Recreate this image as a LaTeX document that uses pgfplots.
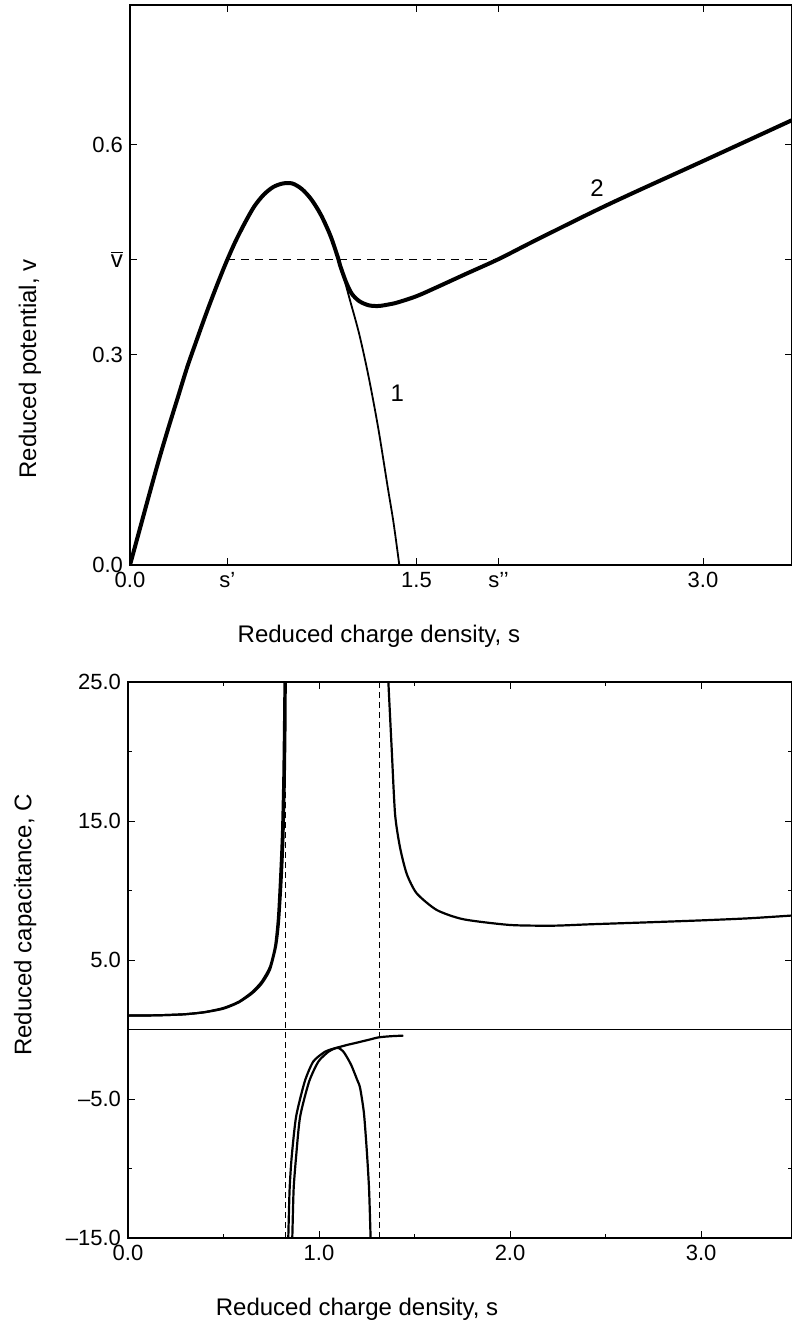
\documentclass[border=0pt]{standalone}
\usepackage{fontspec}
\setmainfont{Liberation Sans}
\usepackage{pgfplots}
\pgfplotsset{compat=1.18}
\begin{document}
\begin{tikzpicture}
\useasboundingbox (0,0) rectangle (396pt,-661pt);
\pgfplotsset{
  mystyle/.style={
    scale only axis, anchor=north west,
    axis line style={line width=0.6pt},
    tick style={line width=0.5pt, black},
    tick align=inside, xtick pos=both, ytick pos=both,
    major tick length=3.5pt, minor tick length=2pt,
    tick label style={font=\fontsize{11}{13}\selectfont},
    label style={font=\fontsize{12}{14}\selectfont},
    /pgf/number format/assume math mode=true,
    clip=true,
  }
}
% ---------------- top panel ----------------
\begin{axis}[mystyle, at={(65pt,-2.5pt)}, width=331pt, height=280pt,
  xmin=0, xmax=3.466, ymin=0, ymax=0.8,
  xtick={0,0.51,1.5,1.93,3}, xticklabels={0.0,s’,1.5,s’’,3.0},
  ytick={0,0.3,0.4366,0.6}, yticklabels={0.0,0.3,{\fontsize{12}{14}\selectfont$\overline{\mbox{v}}$},0.6},
  xlabel={Reduced charge density, s}, ylabel={Reduced potential, v},
  xlabel style={at={(axis description cs:0.376,-0.127)}, anchor=center},
  ylabel style={at={(axis description cs:-0.151,0.35)}, anchor=center},
]
% curve 1 (thin)
\addplot[black, line width=0.9pt, smooth, tension=0.5] coordinates {
(0,0)(0.05,0.050)(0.1,0.100)(0.15,0.149)(0.2,0.195)(0.25,0.239)(0.3,0.283)
(0.35,0.322)(0.4,0.360)(0.45,0.396)(0.5,0.430)(0.55,0.461)(0.6,0.488)
(0.65,0.512)(0.7,0.529)(0.75,0.540)(0.8,0.545)(0.85,0.545)(0.9,0.537)
(0.95,0.522)(1.0,0.500)(1.05,0.470)(1.09,0.438)(1.12,0.410)(1.15,0.380)
(1.2,0.330)(1.25,0.268)(1.3,0.195)(1.35,0.110)(1.38,0.060)(1.41,0.0)};
% curve 2 (thick)
\addplot[black, line width=2pt, line join=round, smooth, tension=0.5] coordinates {
(0,0)(0.05,0.050)(0.1,0.100)(0.15,0.149)(0.2,0.195)(0.25,0.239)(0.3,0.283)
(0.35,0.322)(0.4,0.360)(0.45,0.396)(0.5,0.430)(0.55,0.461)(0.6,0.488)
(0.65,0.512)(0.7,0.529)(0.75,0.540)(0.8,0.545)(0.85,0.545)(0.9,0.537)
(0.95,0.522)(1.0,0.500)(1.05,0.470)(1.09,0.438)(1.10,0.428)(1.13,0.405)
(1.16,0.388)(1.20,0.377)(1.25,0.371)(1.30,0.370)(1.35,0.372)(1.40,0.375)
(1.50,0.384)(1.60,0.396)(1.76,0.416)(1.93,0.437)(2.11,0.462)(2.42,0.504)
(2.63,0.531)(3.00,0.577)(3.47,0.636)};
% v-bar dashed line
\addplot[black, line width=0.5pt, dash pattern=on 4pt off 3pt] coordinates {(0.51,0.4366)(1.93,0.4366)};
\node[font=\fontsize{12}{14}\selectfont] at (axis cs:1.40,0.245) {1};
\node[font=\fontsize{12}{14}\selectfont] at (axis cs:2.445,0.538) {2};
\end{axis}
% ---------------- bottom panel ----------------
\begin{axis}[mystyle, at={(64pt,-341pt)}, width=332pt, height=278pt,
  xmin=0, xmax=3.476, ymin=-15, ymax=25,
  xtick={0,1,2,3}, xticklabels={0.0,1.0,2.0,3.0}, minor xtick={0.5,1.5,2.5},
  ytick={-15,-5,5,15,25}, yticklabels={–15.0,–5.0,5.0,15.0,25.0}, minor ytick={-10,0,10,20},
  xlabel={Reduced charge density, s}, ylabel={Reduced capacitance, C},
  xlabel style={at={(axis description cs:0.345,-0.128)}, anchor=center},
  ylabel style={at={(axis description cs:-0.155,0.563)}, anchor=center},
]
% zero line
\addplot[black, line width=0.5pt] coordinates {(0,0)(3.476,0)};
% asymptotes
\addplot[black, line width=0.5pt, dash pattern=on 3pt off 2pt] coordinates {(0.826,-15)(0.826,25)};
\addplot[black, line width=0.5pt, dash pattern=on 3pt off 2pt] coordinates {(1.314,-15)(1.314,25)};
% left positive branch (two close curves)
\addplot[black, line width=1.1pt, smooth, tension=0.4] coordinates {
(0,1.0)(0.1,1.01)(0.2,1.04)(0.3,1.1)(0.4,1.25)(0.5,1.55)(0.58,2.0)(0.65,2.7)
(0.7,3.45)(0.743,4.5)(0.77,6.0)(0.785,8)(0.796,10.8)(0.806,14)(0.813,18)(0.817,22)(0.82,26)};
\addplot[black, line width=1.1pt, smooth, tension=0.4] coordinates {
(0,1.0)(0.1,1.01)(0.2,1.04)(0.3,1.1)(0.4,1.24)(0.5,1.5)(0.58,1.95)(0.65,2.6)
(0.7,3.3)(0.743,4.3)(0.775,6.0)(0.79,7.7)(0.803,10.5)(0.813,13.5)(0.82,17.5)(0.824,21.5)(0.826,26)};
% curve A: negative branch of curve 1, tends to 0
\addplot[black, line width=1.1pt, smooth, tension=0.4] coordinates {
(0.836,-16)(0.839,-15)(0.846,-11.5)(0.857,-9.15)(0.88,-6.27)(0.925,-3.75)(0.97,-2.3)
(1.031,-1.6)(1.07,-1.4)(1.101,-1.28)(1.15,-1.1)(1.197,-0.95)(1.26,-0.74)
(1.314,-0.56)(1.38,-0.48)(1.441,-0.44)};
% curve B: negative branch of curve 2, back to -infinity
\addplot[black, line width=1.1pt, smooth, tension=0.4] coordinates {
(0.857,-16)(0.860,-15)(0.867,-11.5)(0.880,-9.15)(0.901,-6.27)(0.948,-3.75)(0.997,-2.3)
(1.049,-1.6)(1.08,-1.38)(1.101,-1.32)(1.125,-1.55)(1.145,-1.96)(1.17,-2.6)
(1.2,-3.63)(1.215,-4.2)(1.235,-6)(1.25,-8.7)(1.262,-11.5)(1.27,-15)(1.272,-16)};
% right positive branch of curve 2
\addplot[black, line width=1.1pt, smooth, tension=0.4] coordinates {
(1.360,26)(1.363,25)(1.380,20.3)(1.398,15.5)(1.424,13.1)(1.459,11.2)(1.511,9.8)
(1.616,8.6)(1.756,7.93)(2.0,7.52)(2.227,7.47)(2.42,7.57)(2.7,7.7)(3.0,7.85)(3.25,8.0)(3.476,8.2)};
\end{axis}
\end{tikzpicture}
\end{document}
